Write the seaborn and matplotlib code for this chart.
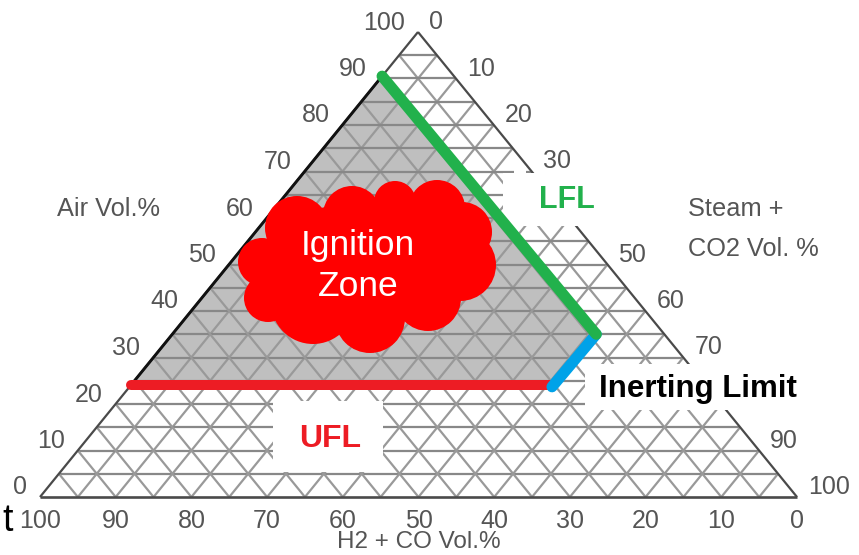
import numpy as np
import pandas as pd
import seaborn as sns
import matplotlib.pyplot as plt
from matplotlib.patches import Circle, Ellipse, Polygon, Rectangle

# values, as (air, steam) in vol.%
UFL_AIR = [24, 24]
UFL_STEAM = [0, 55.6]
LFL_AIR = [90.5, 35]
LFL_STEAM = [0, 56]
INERT_AIR = [35, 23.7]
INERT_STEAM = [56, 55.8]

GRID_STEPS = list(range(5, 100, 5))
AIR_TICKS = [0, 10, 20, 30, 40, 50, 60, 70, 80, 90, 100]
STEAM_TICKS = [0, 10, 20, 30, 50, 60, 70, 90, 100]  # 40 and 80 are covered in the original
FUEL_TICKS = [100, 90, 80, 70, 60, 50, 40, 30, 20, 10, 0]

# triangle corners in pixels
LEFT = (40, 497)
RIGHT = (797, 497)
TOP = (418, 32)

LABEL_COLOR = "#555555"
GRID_H = "#888888"
GRID_D = "#999999"
EDGE = "#4a4a4a"

sns.set_style("white")
plt.rcParams["font.family"] = ["Liberation Sans", "DejaVu Sans"]


def tern(air, steam):
    air = np.asarray(air, dtype=float) / 100
    steam = np.asarray(steam, dtype=float) / 100
    fuel = 1 - air - steam
    x = fuel * LEFT[0] + steam * RIGHT[0] + air * TOP[0]
    y = fuel * LEFT[1] + steam * RIGHT[1] + air * TOP[1]
    return x, y


def draw_line(ax, air, steam, color, lw, cap="butt"):
    x, y = tern(air, steam)
    sns.lineplot(
        data=pd.DataFrame({"x": x, "y": y}),
        x="x",
        y="y",
        ax=ax,
        color=color,
        linewidth=lw,
        sort=False,
        estimator=None,
        errorbar=None,
        solid_capstyle=cap,
    )


fig = plt.figure(figsize=(8.59, 5.55), dpi=100, facecolor="white")
ax = fig.add_axes([0, 0, 1, 1])

# grey ignition region
gx, gy = tern(
    [UFL_AIR[0], LFL_AIR[0], LFL_AIR[1], UFL_AIR[1]],
    [UFL_STEAM[0], LFL_STEAM[0], LFL_STEAM[1], UFL_STEAM[1]],
)
ax.add_patch(Polygon(np.column_stack([gx, gy]), facecolor="#bfbfbf", edgecolor="none", zorder=0))

# 5 % grid
for k in GRID_STEPS:
    draw_line(ax, [k, k], [0, 100 - k], GRID_H, 1.6)
    draw_line(ax, [0, 100 - k], [k, k], GRID_D, 1.6)
    draw_line(ax, [0, 100 - k], [100 - k, 0], GRID_D, 1.6)

# triangle edges
draw_line(ax, [0, 100], [0, 0], EDGE, 1.6)
draw_line(ax, [100, 0], [0, 100], EDGE, 1.6)
draw_line(ax, [0, 0], [0, 100], EDGE, 1.9)
draw_line(ax, [UFL_AIR[0], LFL_AIR[0]], [0, 0], "#111111", 2.1)

# white patches behind the annotations
for bx, by, bw, bh in [(273, 401, 110, 71), (503, 173, 97, 53), (514, 166, 12, 7), (585, 364, 230, 46)]:
    ax.add_patch(Rectangle((bx, by), bw, bh, facecolor="white", edgecolor="none", zorder=3))

# limit lines
for air, steam, color, width in [
    (UFL_AIR, UFL_STEAM, "#ed1c24", 7.2),
    (INERT_AIR, INERT_STEAM, "#00a2e8", 8),
    (LFL_AIR, LFL_STEAM, "#22b14c", 8),
]:
    draw_line(ax, air, steam, color, width, cap="round")
for line in ax.get_lines()[-3:]:
    line.set_zorder(4)

# cloud
for cx, cy, r in [
    (297, 228, 32), (352, 215, 29), (395, 202, 21), (437, 208, 28),
    (462, 232, 30), (460, 265, 36), (428, 298, 33), (370, 318, 35),
    (313, 302, 42), (268, 298, 24), (262, 262, 24),
]:
    ax.add_patch(Circle((cx, cy), r, facecolor="#ff0000", edgecolor="none", zorder=5))
ax.add_patch(Ellipse((365, 262), 200, 120, facecolor="#ff0000", edgecolor="none", zorder=5))

# tick labels
TICK = dict(color=LABEL_COLOR, fontsize=18, va="center")
for t in AIR_TICKS:
    x, y = tern(t, 0)
    ax.text(x - 13, y - 9.5, str(t), ha="right", **TICK)
for t in STEAM_TICKS:
    x, y = tern(100 - t, t)
    ax.text(x + 11, y - 10, str(t), ha="left", **TICK)
for t in FUEL_TICKS:
    x, y = tern(0, 100 - t)
    ax.text(x, y + 24, str(t), ha="center", **TICK)

# axis titles
TITLE = dict(color=LABEL_COLOR, fontsize=18.3, va="center")
ax.text(57, 209, "Air Vol.%", ha="left", **TITLE)
ax.text(688, 209, "Steam +", ha="left", **TITLE)
ax.text(688, 249, "CO2 Vol. %", ha="left", **TITLE)
ax.text(419, 542, "H2 + CO Vol.%", ha="center", color=LABEL_COLOR, fontsize=17.5, va="center")
ax.text(2, 521, "t", color="black", fontsize=27, ha="left", va="center")

# annotations
ax.text(358, 245, "Ignition", color="white", fontsize=25.5, ha="center", va="center", zorder=6)
ax.text(358, 287, "Zone", color="white", fontsize=25.5, ha="center", va="center", zorder=6)
ax.text(567, 200, "LFL", color="#22b14c", fontsize=22, fontweight="bold", ha="center", va="center", zorder=6)
ax.text(330, 439, "UFL", color="#ed1c24", fontsize=23, fontweight="bold", ha="center", va="center", zorder=6)
ax.text(698, 389, "Inerting Limit", color="black", fontsize=22.5, fontweight="bold", ha="center", va="center", zorder=6)

ax.set_xlim(0, 859)
ax.set_ylim(555, 0)
ax.set_axis_off()

fig.savefig("out.png", dpi=100, facecolor="white")
plt.close(fig)
